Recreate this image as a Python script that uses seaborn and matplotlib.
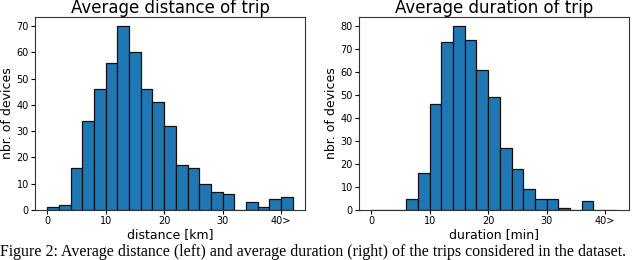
import numpy as np
import pandas as pd
import matplotlib
matplotlib.use('Agg')
import matplotlib.pyplot as plt
import seaborn as sns

# DATA (bins of 2 units, last bin = "40>")
bin_starts = list(range(0, 42, 2))
distance_counts = [1, 2, 16, 34, 46, 56, 70, 60, 46, 41, 32, 17, 16, 10, 7, 6, 0, 3, 1, 4, 5]
duration_counts = [0, 0, 0, 5, 16, 46, 73, 80, 74, 61, 49, 27, 18, 9, 5, 5, 1, 0, 4, 0, 0]
tick_values = [0, 10, 20, 30, 40]
tick_labels = ['0', '10', '20', '30', '40>']

titles = ['Average distance of trip', 'Average duration of trip']
xlabels = ['distance [km]', 'duration [min]']
caption = ('Figure 2: Average distance (left) and average duration (right) '
           'of the trips considered in the dataset.')

W, H = 640, 260
fig = plt.figure(figsize=(W / 100, H / 100), dpi=100)

# axes boxes in pixels: left, top, right, bottom
boxes = [(35, 17, 305, 210), (359, 17, 629, 210)]


def draw_hist(ax, counts, title, xlabel):
	df = pd.DataFrame({'value': [b + 1.0 for b in bin_starts], 'count': counts})
	sns.histplot(
		data=df,
		x='value',
		weights='count',
		binwidth=2,
		binrange=(0, 42),
		ax=ax,
		color='#1f77b4',
		edgecolor='#111111',
		linewidth=0.9,
		alpha=1,
	)
	ax.set_title(title, fontsize=12, pad=0.6)
	ax.set_xlabel(xlabel, fontsize=9, labelpad=1)
	ax.set_ylabel('nbr. of devices', fontsize=9, labelpad=2)
	ax.set_xticks(tick_values)
	ax.set_xticklabels(tick_labels)
	ax.tick_params(labelsize=7, length=3, pad=1.5)
	for s in ax.spines.values():
		s.set_color('#333333')


for (l, t, r, b), counts, title, xlabel in zip(boxes, [distance_counts, duration_counts], titles, xlabels):
	ax = fig.add_axes([l / W, 1 - b / H, (r - l) / W, (b - t) / H])
	draw_hist(ax, counts, title, xlabel)

# caption under the two panels
fig.text(0.0, 1 - 255.5 / H, caption, fontsize=11.4, family='Liberation Serif', va='baseline', ha='left')

plt.savefig('out.png', dpi=100)
